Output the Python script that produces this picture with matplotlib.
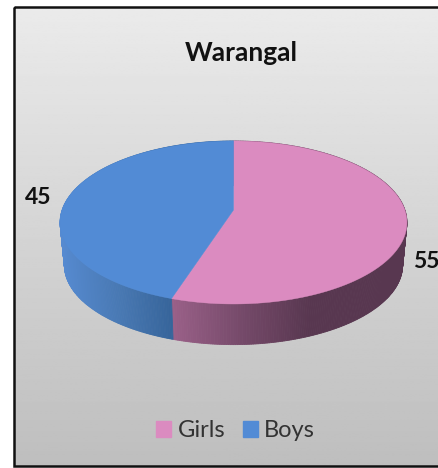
import numpy as np
import matplotlib
matplotlib.use("Agg")
from matplotlib import pyplot as plt
from matplotlib.patches import Patch, Rectangle

city = "Warangal"
categories = ["Girls", "Boys"]
values = [55, 45]
colors = ["#db8bc0", "#528bd5"]

plt.rcParams['font.family'] = ['Lato', 'DejaVu Sans']

# perspective of the disc, in pixels of the picture
cx, cy = 233.5, 210
a, b, p = 171.4, 79.6, 0.153
depth, shrink = 43, 0.975


def rim(theta, scale=1.0, dy=0.0):
    # theta is clockwise from the top of the disc
    u = np.sin(theta)
    v = np.cos(theta)
    w = 1 + p * v
    return cx + scale * a * u / w, cy + dy - scale * b * v / w


def side_color(x, is_blue):
    # the rim gets darker going to the right
    if is_blue:
        xs, r, g, bl = [60, 120, 172], [86, 72, 54], [138, 120, 100], [208, 178, 154]
    else:
        xs, r, g, bl = [172, 240, 310], [154, 118, 88], [96, 74, 55], [136, 106, 80]
    return (np.interp(x, xs, r) / 255, np.interp(x, xs, g) / 255, np.interp(x, xs, bl) / 255)


fig = plt.figure(figsize=(4.39, 4.68), dpi=100)
ax = fig.add_axes([0, 0, 1, 1])
ax.set_xlim(0, 439)
ax.set_ylim(468, 0)
ax.axis("off")

# background
grad = np.linspace(0.92, 0.745, 256).reshape(-1, 1)
ax.imshow(grad, cmap="gray", vmin=0, vmax=1, extent=[14, 439, 466, 7], aspect="auto", zorder=0)
ax.set_xlim(0, 439)
ax.set_ylim(468, 0)
ax.add_patch(Rectangle((14, 7), 430, 459, fill=False, ec="#111111", lw=1.8, zorder=1))

# angles of the slices come from the values, Girls starts at the top
fractions = np.array(values) / sum(values)
edges = np.concatenate([[0], np.cumsum(fractions)]) * 2 * np.pi

# side wall, strip by strip
for i in range(len(values)):
    t = np.linspace(edges[i], edges[i + 1], 300)
    for t0, t1 in zip(t[:-1], t[1:]):
        x0, y0 = rim(t0)
        x1, y1 = rim(t1)
        x2, y2 = rim(t1, shrink, depth)
        x3, y3 = rim(t0, shrink, depth)
        c = side_color((x0 + x1) / 2, categories[i] == "Boys")
        ax.fill([x0, x1, x2, x3], [y0, y1, y2, y3], color=c, lw=0.6, zorder=2)

# top face
for i in range(len(values)):
    t = np.linspace(edges[i], edges[i + 1], 300)
    x, y = rim(t)
    ax.fill(np.r_[cx, x], np.r_[cy, y], color=colors[i], lw=0.3, zorder=3)

ax.text(241, 53, city, ha="center", va="center", fontsize=19, fontweight="bold", color="#111111")
ax.text(38, 197, str(values[1]), ha="center", va="center", fontsize=16.5, fontweight="bold", color="#111111")
ax.text(426.5, 262, str(values[0]), ha="center", va="center", fontsize=16.5, fontweight="bold", color="#111111")

handles = [Patch(color=c) for c in colors]
ax.legend(handles, categories, loc="center", bbox_to_anchor=(235.5 / 439, 1 - 430.5 / 468), ncol=2,
          frameon=False, fontsize=17, labelcolor="#333333", handlelength=0.64, handleheight=0.64,
          handletextpad=0.25, columnspacing=0.75)

fig.savefig("out.png", dpi=100)
